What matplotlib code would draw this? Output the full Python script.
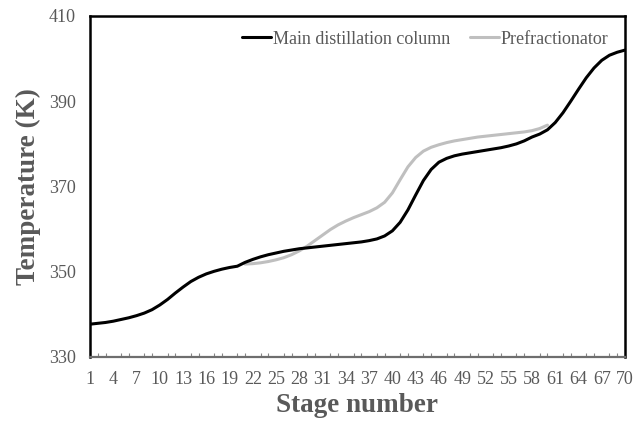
import matplotlib
matplotlib.use("Agg")
import matplotlib.pyplot as plt
import numpy as np

plt.rcParams['font.family'] = ['Liberation Serif', 'DejaVu Serif']

# Stage-wise temperature profiles (K)
main_stages = list(range(1, 71))
main_temp = [
    337.7, 337.9, 338.1, 338.4, 338.8, 339.2, 339.7, 340.3, 341.1, 342.2,
    343.5, 345.0, 346.4, 347.7, 348.7, 349.5, 350.1, 350.6, 351.0, 351.3,
    352.2, 352.9, 353.5, 354.0, 354.4, 354.8, 355.1, 355.4, 355.6, 355.8,
    356.0, 356.2, 356.4, 356.6, 356.8, 357.0, 357.3, 357.7, 358.4, 359.6,
    361.6, 364.5, 368.0, 371.4, 374.0, 375.7, 376.6, 377.2, 377.6, 377.9,
    378.2, 378.5, 378.8, 379.1, 379.5, 380.0, 380.7, 381.6, 382.3, 383.3,
    385.0, 387.3, 390.0, 392.8, 395.5, 397.8, 399.6, 400.8, 401.5, 402.0,
]

pre_stages = list(range(21, 61))
pre_temp = [
    351.8, 351.9, 352.1, 352.4, 352.8, 353.3, 354.0, 354.9, 356.0, 357.3,
    358.6, 359.9, 361.0, 361.9, 362.7, 363.4, 364.1, 365.0, 366.3, 368.5,
    371.6, 374.6, 376.8, 378.3, 379.2, 379.8, 380.3, 380.7, 381.0, 381.3,
    381.6, 381.8, 382.0, 382.2, 382.4, 382.6, 382.8, 383.1, 383.6, 384.4,
]

x_tick_labels = list(range(1, 71, 3))
y_ticks = [330, 350, 370, 390, 410]

text_gray = '#595959'

fig = plt.figure(figsize=(6.35, 4.23), dpi=100)
ax = fig.add_axes([90 / 635, (423 - 357) / 423, (625 - 90) / 635, (357 - 16) / 423])

ax.plot(main_stages, main_temp, color='black', lw=2.2,
        label='Main distillation column', solid_capstyle='round', zorder=3)
ax.plot(pre_stages, pre_temp, color='#BFBFBF', lw=2.2,
        label='Prefractionator', solid_capstyle='round', zorder=2)

ax.set_xlim(1, 70)
ax.set_ylim(330, 410)

ax.set_xticks(x_tick_labels)
ax.set_xticklabels([str(v) for v in x_tick_labels])
ax.set_xticks(main_stages, minor=True)
ax.tick_params(axis='x', which='major', length=0, pad=10,
               labelsize=13, labelcolor=text_gray)
ax.tick_params(axis='x', which='minor', direction='in', length=3,
               width=0.8, color='#868686')
ax.set_yticks(y_ticks)
ax.tick_params(axis='y', length=0, pad=10, labelsize=13, labelcolor=text_gray)

for side in ('left', 'right', 'top'):
    ax.spines[side].set_color('black')
    ax.spines[side].set_linewidth(1.8)
ax.spines['bottom'].set_color('#6e6e6e')
ax.spines['bottom'].set_linewidth(1.6)

ax.set_xlabel('Stage number', fontsize=19.5, fontweight='bold', color=text_gray, labelpad=4)
ax.set_ylabel('Temperature (K)', fontsize=19.5, fontweight='bold', color=text_gray, labelpad=6)

leg = ax.legend(loc='upper right', bbox_to_anchor=(0.983, 0.978), ncol=2,
                frameon=False, fontsize=13, handlelength=1.6, handletextpad=0.1,
                columnspacing=1.1, borderaxespad=0)
for t in leg.get_texts():
    t.set_color(text_gray)

fig.savefig('out.png', dpi=100)
